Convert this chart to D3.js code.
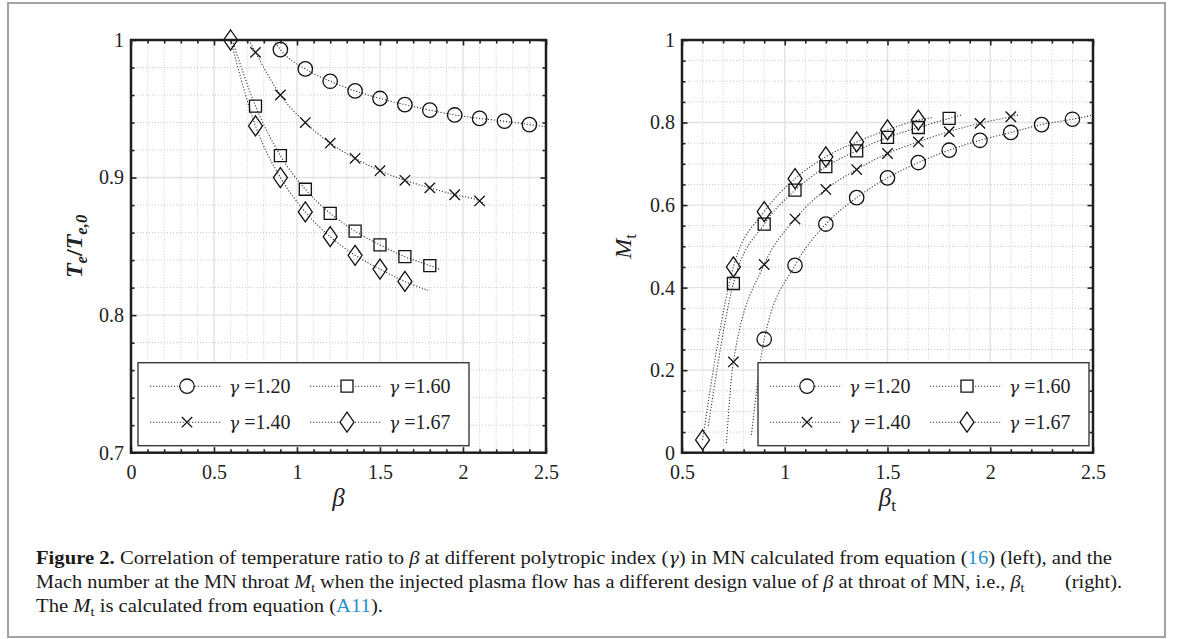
<!DOCTYPE html>
<html><head><meta charset="utf-8">
<script src="https://cdn.jsdelivr.net/npm/d3@7"></script>
<style>body{margin:0;background:#fff} svg{display:block}</style>
</head><body>
<svg id="c" width="1182" height="639"></svg>
<script>
// ---------------- data ----------------
const gammaLabels = ["1.20", "1.40", "1.60", "1.67"];
const symbolTypes = ["circle", "x", "square", "diamond"];

// left panel: Te/Te,0 vs beta
const betaL120 = [0.9, 1.05, 1.2, 1.35, 1.5, 1.65, 1.8, 1.95, 2.1, 2.25, 2.4];
const tRatio120 = [0.993, 0.979, 0.970, 0.963, 0.9575, 0.953, 0.949, 0.9455, 0.943, 0.941, 0.9385];
const betaL140 = [0.75, 0.9, 1.05, 1.2, 1.35, 1.5, 1.65, 1.8, 1.95, 2.1];
const tRatio140 = [0.991, 0.960, 0.940, 0.925, 0.914, 0.905, 0.898, 0.8925, 0.8875, 0.883];
const betaL160 = [0.75, 0.9, 1.05, 1.2, 1.35, 1.5, 1.65, 1.8];
const tRatio160 = [0.952, 0.916, 0.8915, 0.874, 0.861, 0.851, 0.8425, 0.836];
const betaL167 = [0.6, 0.75, 0.9, 1.05, 1.2, 1.35, 1.5, 1.65];
const tRatio167 = [1.0, 0.9375, 0.900, 0.875, 0.857, 0.8435, 0.8335, 0.8245];
// ends of the dotted model curves, order as gammaLabels
const leftCurveStartBeta = [0.86, 0.71, 0.61, 0.6];
const leftCurveStartT    = [1.0, 1.0, 1.0, 1.0];
const leftCurveEndBeta   = [2.5, 2.13, 1.866, 1.79];
const leftCurveEndT      = [0.937, 0.881, 0.833, 0.818];

// right panel: M_t vs beta_t
const betaT120 = [0.9, 1.05, 1.2, 1.35, 1.5, 1.65, 1.8, 1.95, 2.1, 2.25, 2.4];
const mach120  = [0.275, 0.454, 0.554, 0.618, 0.666, 0.703, 0.733, 0.757, 0.776, 0.795, 0.808];
const betaT140 = [0.75, 0.9, 1.05, 1.2, 1.35, 1.5, 1.65, 1.8, 1.95, 2.1];
const mach140  = [0.220, 0.456, 0.566, 0.638, 0.686, 0.725, 0.753, 0.778, 0.798, 0.814];
const betaT160 = [0.75, 0.9, 1.05, 1.2, 1.35, 1.5, 1.65, 1.8];
const mach160  = [0.410, 0.554, 0.636, 0.693, 0.7315, 0.764, 0.788, 0.810];
const betaT167 = [0.6, 0.75, 0.9, 1.05, 1.2, 1.35, 1.5, 1.65];
const mach167  = [0.031, 0.450, 0.584, 0.664, 0.717, 0.753, 0.782, 0.806];
const rightCurveStartBeta = [0.838, 0.716, 0.628, 0.6];
const rightCurveStartM    = [0.043, 0.023, 0.065, 0.031];
const rightCurveEndBeta   = [2.5, 2.136, 1.857, 1.72];
const rightCurveEndM      = [0.818, 0.818, 0.818, 0.812];

// ticks
const leftXTicks = [0, 0.5, 1, 1.5, 2, 2.5];
const leftXTickLabels = ["0", "0.5", "1", "1.5", "2", "2.5"];
const leftYTicks = [0.7, 0.8, 0.9, 1];
const leftYTickLabels = ["0.7", "0.8", "0.9", "1"];
const rightXTicks = [0.5, 1, 1.5, 2, 2.5];
const rightXTickLabels = ["0.5", "1", "1.5", "2", "2.5"];
const rightYTicks = [0, 0.2, 0.4, 0.6, 0.8, 1];
const rightYTickLabels = ["0", "0.2", "0.4", "0.6", "0.8", "1"];

// ---------------- drawing ----------------
const svg = d3.select("#c");
const FONT = "'Liberation Serif', 'Times New Roman', serif";
const GFONT = "'DejaVu Serif', serif";

svg.append("rect").attr("x", 8).attr("y", 3).attr("width", 1157).attr("height", 634)
  .attr("fill", "#fff").attr("stroke", "#a3a3a3").attr("stroke-width", 2);

function symPath(t) {
  if (t === "circle") return d3.symbol(d3.symbolCircle, Math.PI * 7.2 * 7.2)();
  if (t === "square") return d3.symbol(d3.symbolSquare, 12 * 12)();
  if (t === "x") return "M-5.2,-5.2L5.2,5.2M-5.2,5.2L5.2,-5.2";
  return "M0,-10L7,0L0,10L-7,0Z";
}

function minorVals(lo, hi, step, majors) {
  const n = Math.round((hi - lo) / step);
  return d3.range(n + 1).map(i => +(lo + i * step).toFixed(6))
    .filter(v => !majors.some(m => Math.abs(m - v) < 1e-6));
}

function panel(cfg) {
  const g = svg.append("g");
  const x = cfg.x, y = cfg.y;
  const [x0, x1] = x.range(), [y0, y1] = y.range();
  const xMin = minorVals(x.domain()[0], x.domain()[1], cfg.xMinor, cfg.xTicks);
  const yMin = minorVals(y.domain()[0], y.domain()[1], cfg.yMinor, cfg.yTicks);

  // grid
  const grid = g.append("g");
  grid.selectAll(".vm").data(xMin).join("line")
    .attr("x1", d => x(d)).attr("x2", d => x(d)).attr("y1", y0).attr("y2", y1)
    .attr("stroke", "#c8c8c8").attr("stroke-width", 1).attr("stroke-dasharray", "1,2");
  grid.selectAll(".hm").data(yMin).join("line")
    .attr("y1", d => y(d)).attr("y2", d => y(d)).attr("x1", x0).attr("x2", x1)
    .attr("stroke", "#c8c8c8").attr("stroke-width", 1).attr("stroke-dasharray", "1,2");
  grid.selectAll(".vM").data(cfg.xTicks).join("line")
    .attr("x1", d => x(d)).attr("x2", d => x(d)).attr("y1", y0).attr("y2", y1)
    .attr("stroke", "#e2e2e2").attr("stroke-width", 1.4);
  grid.selectAll(".hM").data(cfg.yTicks).join("line")
    .attr("y1", d => y(d)).attr("y2", d => y(d)).attr("x1", x0).attr("x2", x1)
    .attr("stroke", "#e2e2e2").attr("stroke-width", 1.4);

  // curves and markers
  const line = d3.line().x(d => x(d[0])).y(d => y(d[1])).curve(d3.curveMonotoneX);
  cfg.series.forEach((s, i) => {
    let pts = [[cfg.startX[i], cfg.startY[i]]].concat(s.xs.map((v, k) => [v, s.ys[k]]))
      .concat([[cfg.endX[i], cfg.endY[i]]]);
    pts = pts.filter((p, k) => k === 0 || Math.abs(p[0] - pts[k - 1][0]) > 1e-6);
    g.append("path").attr("d", line(pts)).attr("fill", "none")
      .attr("stroke", "#3a3a3a").attr("stroke-width", 1.1).attr("stroke-dasharray", "1.2,1.8");
  });
  cfg.series.forEach((s, i) => {
    g.append("g").selectAll("path").data(s.xs.map((v, k) => [v, s.ys[k]])).join("path")
      .attr("transform", d => `translate(${x(d[0])},${y(d[1])})`)
      .attr("d", symPath(symbolTypes[i])).attr("fill", "none")
      .attr("stroke", "#111").attr("stroke-width", 1.3);
  });

  // axes (ticks inward)
  const style = sel => {
    sel.select(".domain").remove();
    sel.selectAll("line").attr("stroke", "#222").attr("stroke-width", 1.6);
    sel.selectAll("text").attr("font-family", FONT).attr("font-size", 20).attr("fill", "#222");
  };
  const mk = (ax, tr) => g.append("g").attr("transform", tr).call(ax).call(style);
  const fmtX = (d, k) => cfg.xLabels[k], fmtY = (d, k) => cfg.yLabels[k];
  mk(d3.axisBottom(x).tickValues(cfg.xTicks).tickSize(-5.5).tickPadding(12).tickFormat(fmtX), `translate(0,${y0})`);
  mk(d3.axisBottom(x).tickValues(xMin).tickSize(-3.5).tickFormat(""), `translate(0,${y0})`);
  mk(d3.axisTop(x).tickValues(cfg.xTicks).tickSize(-5.5).tickFormat(""), `translate(0,${y1})`);
  mk(d3.axisTop(x).tickValues(xMin).tickSize(-3.5).tickFormat(""), `translate(0,${y1})`);
  mk(d3.axisLeft(y).tickValues(cfg.yTicks).tickSize(-5.5).tickPadding(7).tickFormat(fmtY), `translate(${x0},0)`);
  mk(d3.axisLeft(y).tickValues(yMin).tickSize(-3.5).tickFormat(""), `translate(${x0},0)`);
  mk(d3.axisRight(y).tickValues(cfg.yTicks).tickSize(-5.5).tickFormat(""), `translate(${x1},0)`);
  mk(d3.axisRight(y).tickValues(yMin).tickSize(-3.5).tickFormat(""), `translate(${x1},0)`);

  g.append("rect").attr("x", x0).attr("y", y1).attr("width", x1 - x0).attr("height", y0 - y1)
    .attr("fill", "none").attr("stroke", "#1e1e1e").attr("stroke-width", 2.5);

  // legend
  const L = g.append("g").attr("transform", `translate(${cfg.legendX},362.7)`);
  L.append("rect").attr("width", 331).attr("height", 83).attr("fill", "#fff")
    .attr("stroke", "#3a3a3a").attr("stroke-width", 1.4);
  const order = [0, 2, 1, 3]; // grid order: row1: 1.20, 1.60 ; row2: 1.40, 1.67
  order.forEach((si, k) => {
    const col = k % 2, row = Math.floor(k / 2);
    const ox = col * 160, oy = row === 0 ? 23.5 : 59.5;
    L.append("line").attr("x1", ox + 12).attr("x2", ox + 84).attr("y1", oy).attr("y2", oy)
      .attr("stroke", "#3a3a3a").attr("stroke-width", 1.1).attr("stroke-dasharray", "1.2,1.8");
    L.append("path").attr("transform", `translate(${ox + 49},${oy})`).attr("d", symPath(symbolTypes[si]))
      .attr("fill", "#fff").attr("stroke", "#111").attr("stroke-width", 1.3);
    const t = L.append("text").attr("x", ox + 91).attr("y", oy + 7).attr("font-family", FONT)
      .attr("font-size", 20).attr("fill", "#222");
    t.append("tspan").attr("font-style", "italic").attr("font-family", GFONT).attr("font-size", 17).text("γ");
    t.append("tspan").text(" =" + gammaLabels[si]);
  });
  return g;
}

const xL = d3.scaleLinear().domain([0, 2.5]).range([131, 546]);
const yL = d3.scaleLinear().domain([0.7, 1]).range([452.7, 40]);
panel({
  x: xL, y: yL, xTicks: leftXTicks, yTicks: leftYTicks, xLabels: leftXTickLabels, yLabels: leftYTickLabels,
  xMinor: 0.1, yMinor: 0.02,
  series: [{xs: betaL120, ys: tRatio120}, {xs: betaL140, ys: tRatio140}, {xs: betaL160, ys: tRatio160}, {xs: betaL167, ys: tRatio167}],
  startX: leftCurveStartBeta, startY: leftCurveStartT, endX: leftCurveEndBeta, endY: leftCurveEndT,
  legendX: 138
});

const xR = d3.scaleLinear().domain([0.5, 2.5]).range([682, 1093]);
const yR = d3.scaleLinear().domain([0, 1]).range([452.7, 40]);
panel({
  x: xR, y: yR, xTicks: rightXTicks, yTicks: rightYTicks, xLabels: rightXTickLabels, yLabels: rightYTickLabels,
  xMinor: 0.1, yMinor: 0.05,
  series: [{xs: betaT120, ys: mach120}, {xs: betaT140, ys: mach140}, {xs: betaT160, ys: mach160}, {xs: betaT167, ys: mach167}],
  startX: rightCurveStartBeta, startY: rightCurveStartM, endX: rightCurveEndBeta, endY: rightCurveEndM,
  legendX: 758
});

// axis titles
function mathText(sel, parts, size) {
  parts.forEach(p => {
    const ts = sel.append("tspan").text(p.t);
    if (p.i) ts.attr("font-style", "italic");
    if (p.sub) ts.attr("font-size", size * 0.7).attr("dy", p.dy || 5);
    if (p.up) ts.attr("dy", p.up);
  });
}
let t;
t = svg.append("text").attr("x", xL(1.25)).attr("y", 506).attr("text-anchor", "middle")
  .attr("font-family", FONT).attr("font-size", 25).attr("fill", "#222");
mathText(t, [{t: "β", i: true}], 25);
t = svg.append("text").attr("x", xR(1.5)).attr("y", 506).attr("text-anchor", "middle")
  .attr("font-family", FONT).attr("font-size", 25).attr("fill", "#222");
mathText(t, [{t: "β", i: true}, {t: "t", sub: true, dy: 5}], 25);
t = svg.append("text").attr("transform", `translate(82,${yL(0.85)}) rotate(-90)`).attr("text-anchor", "middle")
  .attr("font-family", FONT).attr("font-size", 24).attr("font-weight", "bold").attr("fill", "#222");
mathText(t, [{t: "T", i: true}, {t: "e", i: true, sub: true, dy: 5}, {t: "/", up: -5}, {t: "T", i: true}, {t: "e,0", i: true, sub: true, dy: 5}], 24);
t = svg.append("text").attr("transform", `translate(631,${yR(0.5)}) rotate(-90)`).attr("text-anchor", "middle")
  .attr("font-family", FONT).attr("font-size", 24).attr("fill", "#222");
mathText(t, [{t: "M", i: true}, {t: "t", sub: true, dy: 5}], 24);

// caption
const capLines = [
  {y: 564, w: 1076, parts: [
    {t: "Figure 2.", b: true}, {t: " Correlation of temperature ratio to "}, {t: "β", i: true},
    {t: " at different polytropic index ("}, {t: "γ", i: true, g: true}, {t: ") in MN calculated from equation ("},
    {t: "16", c: "#2a8fd0"}, {t: ") (left), and the"}]},
  {y: 587.5, w: 1086, parts: [
    {t: "Mach number at the MN throat "}, {t: "M", i: true}, {t: "t", sub: true},
    {t: " when the injected plasma flow has a different design value of ", up: true}, {t: "β", i: true},
    {t: " at throat of MN, i.e., "}, {t: "β", i: true}, {t: "t", sub: true}, {t: "\u2003\u2003(right).", up: true}]},
  {y: 611.5, w: 347, parts: [
    {t: "The "}, {t: "M", i: true}, {t: "t", sub: true}, {t: " is calculated from equation (", up: true},
    {t: "A11", c: "#2a8fd0"}, {t: ")."}]}
];
capLines.forEach(l => {
  const tx = svg.append("text").attr("x", 36).attr("y", l.y).attr("font-family", FONT)
    .attr("font-size", 19).attr("fill", "#1a1a1a").attr("xml:space", "preserve")
    .attr("textLength", l.w).attr("lengthAdjust", "spacingAndGlyphs");
  l.parts.forEach(p => {
    const ts = tx.append("tspan").text(p.t);
    if (p.b) ts.attr("font-weight", "bold");
    if (p.i) ts.attr("font-style", "italic");
    if (p.g) ts.attr("font-family", GFONT).attr("font-size", 16);
    if (p.c) ts.attr("fill", p.c);
    if (p.sub) ts.attr("font-size", 13).attr("dy", 4);
    if (p.up) ts.attr("dy", -4);
  });
});
</script>
</body></html>
